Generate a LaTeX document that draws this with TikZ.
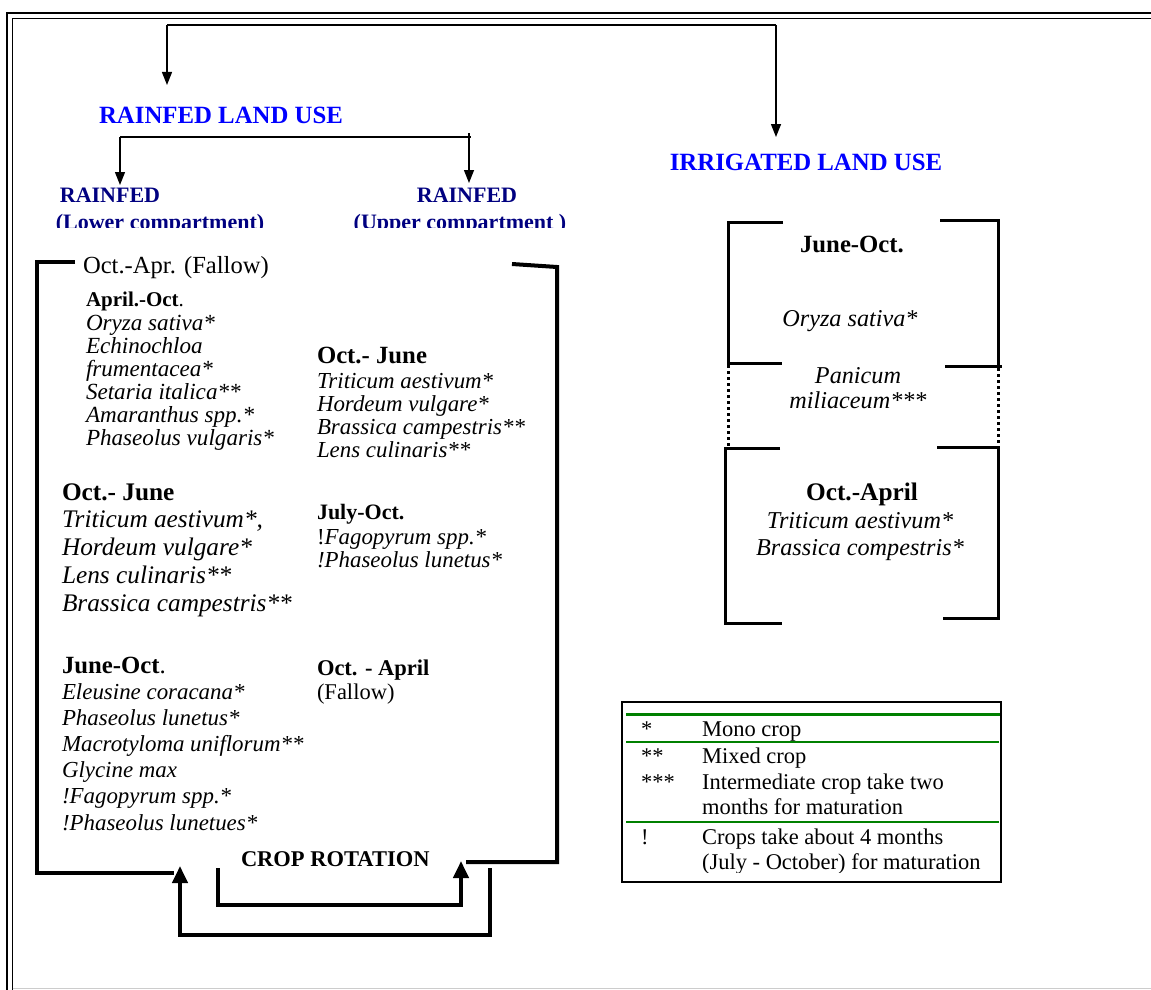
\documentclass[tikz,border=0pt]{standalone}
\usepackage{fontspec}
\setmainfont{Liberation Serif}
\usetikzlibrary{arrows.meta}
\definecolor{tblue}{RGB}{0,0,255}
\definecolor{navy}{RGB}{0,0,128}
\definecolor{lgreen}{RGB}{0,128,0}
\newcommand{\fsz}[1]{\fontsize{#1}{#1}\selectfont}
\begin{document}
\begin{tikzpicture}[x=1pt,y=-1pt,
  lbl/.style={inner sep=0pt, outer sep=0pt, anchor=base west},
  ctr/.style={inner sep=0pt, outer sep=0pt, anchor=base},
  ttl/.style={ctr, text=tblue, font=\fsz{24.8}\bfseries},
  sub/.style={ctr, text=navy, font=\fsz{22}\bfseries},
  conn/.style={line width=1.4pt, -{Triangle[width=10pt,length=13pt]}},
  frame/.style={line width=1.3pt},
  heavy/.style={line width=4pt},
  rot/.style={line width=4pt, -{Triangle[width=15pt,length=17pt]}},
  brk/.style={line width=3pt},
  dotbrk/.style={line width=3pt, dash pattern=on 3pt off 3pt},
  leg/.style={lbl, font=\fsz{22.5}},
  grn/.style={lgreen}
]
\useasboundingbox (0,0) rectangle (1151,990);
% outer double frame
\draw[frame] (7,990) -- (7,13) -- (1151,13);
\draw[frame] (12.5,990) -- (12.5,18.5) -- (1151,18.5);
\draw[gray!40, line width=1pt] (12.5,988.5) -- (1151,988.5);

% titles
\node[ttl] (rlu) at (221,123) {RAINFED LAND USE};
\node[ttl] (ilu) at (806,170) {IRRIGATED LAND USE};

% top connectors
\coordinate (t1) at (167,25);
\coordinate (t2) at (776,25);
\draw[line width=1.4pt] (t1) -- (t2);
\draw[conn] (t1) -- (167,85);
\draw[conn] (t2) -- (776,137);

% branch
\coordinate (b1) at (120,137);
\coordinate (b2) at (471,137);
\draw[line width=1.4pt] (b1) -- (b2);
\draw[conn] (b1) -- (120,185);
\draw[conn] (469,133) -- (469,183);

% sub titles (clipped)
\node[sub] (rl1) at (110,202) {RAINFED};
\node[sub] (ru1) at (467,202) {RAINFED};
\begin{scope}
\clip (30,205) rectangle (600,227.5);
\node[sub] (rl2) at (160,229) {(Lower compartment)};
\node[sub] (ru2) at (460,229) {(Upper compartment )};
\end{scope}

% rotation frame
\draw[heavy] (75,262) -- (37,262) -- (37,873) -- (174,873);
\draw[heavy] (512,264) -- (557,267) -- (557,862) -- (466,862);
\draw[rot] (490,868) -- (490,935) -- (180,935) -- (180,866);
\draw[rot] (218,868) -- (218,905) -- (461,905) -- (461,861);
\node[lbl, font=\fsz{22.5}\bfseries] (cr) at (241,866) {CROP ROTATION};

% left column
\node[lbl, font=\fsz{24.6}] (fal) at (83,273) {Oct.-Apr. (Fallow)};
\node[lbl, font=\fsz{21}] (ao) at (86,306) {\textbf{April.-Oct}.};
\foreach \t [count=\i from 0] in {{Oryza sativa*},{Echinochloa},{frumentacea*},{Setaria italica**},{Amaranthus spp.*},{Phaseolus vulgaris*}}
  \node[lbl, font=\fsz{23.1}\itshape] (a\i) at (86,330+23*\i) {\t};
\node[lbl, font=\fsz{25.3}\bfseries] (oj) at (62,500) {Oct.- June};
\foreach \t [count=\i from 0] in {{Triticum aestivum*,},{Hordeum vulgare*},{Lens culinaris**},{Brassica campestris**}}
  \node[lbl, font=\fsz{25.3}\itshape] (b\i) at (62,527+28*\i) {\t};
\node[lbl, font=\fsz{24.75}] (jo) at (62,673) {\textbf{June-Oct}.};
\foreach \t [count=\i from 0] in {{Eleusine coracana*},{Phaseolus lunetus*},{Macrotyloma uniflorum**},{Glycine max},{!Fagopyrum spp.*},{!Phaseolus lunetues*}}
  \node[lbl, font=\fsz{22.9}\itshape] (c\i) at (62,699+26.2*\i) {\t};

% right column
\node[lbl, font=\fsz{24.75}\bfseries] (oj2) at (317,363) {Oct.- June};
\foreach \t [count=\i from 0] in {{Triticum aestivum*},{Hordeum vulgare*},{Brassica campestris**},{Lens culinaris**}}
  \node[lbl, font=\fsz{22.9}\itshape] (d\i) at (317,388+23*\i) {\t};
\node[lbl, font=\fsz{22}\bfseries] (jul) at (317,519) {July-Oct.};
\node[lbl, font=\fsz{22.9}] (e0) at (317,544) {!\textit{Fagopyrum spp.*}};
\node[lbl, font=\fsz{22.9}\itshape] (e1) at (317,567) {!Phaseolus lunetus*};
\node[lbl, font=\fsz{22.5}\bfseries] (oa) at (317,675) {Oct. - April};
\node[lbl, font=\fsz{22.5}] (fw) at (317,699) {(Fallow)};

% irrigated brackets
\draw[brk] (783,222) -- (728,222) -- (728,363) -- (782,363);
\draw[brk] (940,220) -- (998,220) -- (998,366);
\draw[brk] (945,366) -- (1002,366);
\draw[dotbrk] (728,365) -- (728,447);
\draw[dotbrk] (998,368) -- (998,446);
\draw[brk] (780,448) -- (725,448) -- (725,623) -- (782,623);
\draw[brk] (937,447) -- (998,447) -- (998,618) -- (943,618);

\node[ctr, font=\fsz{24.75}\bfseries] (i1) at (852,252) {June-Oct.};
\node[ctr, font=\fsz{24.2}\itshape] (i2) at (850,326) {Oryza sativa*};
\node[ctr, font=\fsz{24.2}\itshape] (i3) at (858,383) {Panicum};
\node[ctr, font=\fsz{24.2}\itshape] (i4) at (858,408) {miliaceum***};
\node[ctr, font=\fsz{25.3}\bfseries] (i5) at (862,500) {Oct.-April};
\node[ctr, font=\fsz{24.2}\itshape] (i6) at (860,528) {Triticum aestivum*};
\node[ctr, font=\fsz{24.2}\itshape] (i7) at (860,555) {Brassica compestris*};

% legend
\draw[line width=1.2pt] (622,702) rectangle (1001,882);
\draw[grn, line width=3pt] (626,714) -- (1000,714);
\draw[grn, line width=1.5pt] (626,742) -- (999,742);
\draw[grn, line width=1.5pt] (626,822) -- (999,822);
\begin{scope}
\clip (623,703) rectangle (1000,872);
\node[leg] (k1) at (641,736) {*};
\node[leg] (v1) at (702,736) {Mono crop};
\node[leg] (k2) at (641,763) {**};
\node[leg] (v2) at (702,763) {Mixed crop};
\node[leg] (k3) at (641,789) {***};
\node[leg] (v3) at (702,789) {Intermediate crop take two};
\node[leg] (v4) at (702,814) {months for maturation};
\node[leg] (k5) at (641,844) {!};
\node[leg] (v5) at (702,844) {Crops take about 4 months};
\node[leg] (v6) at (702,869) {(July - October) for maturation};
\end{scope}
\end{tikzpicture}
\end{document}
